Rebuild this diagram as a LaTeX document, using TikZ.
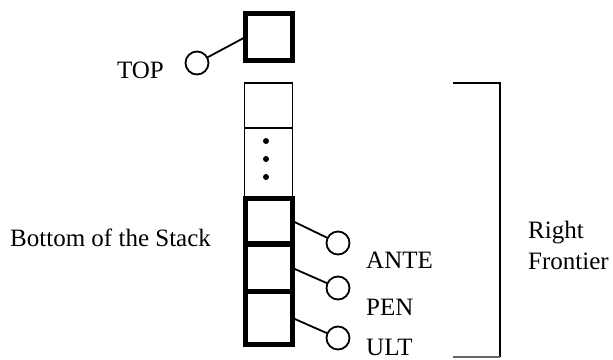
\documentclass[tikz,border=0pt]{standalone}
\usepackage{fontspec}
\setmainfont{Liberation Serif}
\begin{document}
\begin{tikzpicture}[x=1pt,y=-1pt,
  thickbox/.style={draw,line width=4.5pt,minimum width=47pt,inner sep=0pt,outer sep=0pt},
  thinbox/.style={draw,line width=1.8pt,minimum width=48pt,inner sep=0pt,outer sep=0pt},
  ptr/.style={draw,circle,line width=1.8pt,minimum size=23pt,inner sep=0pt,outer sep=0pt},
  conn/.style={line width=1.8pt},
  lbl/.style={font=\fontsize{25}{29}\selectfont,inner sep=0pt}]
\useasboundingbox (0,0) rectangle (613,359);
% top box
\node[thickbox,minimum width=47pt,minimum height=47pt] (topbox) at (269,37) {};
% thin boxes
\node[thinbox,minimum height=45pt] (s1) at (268.5,105.5) {};
\node[thinbox,minimum height=69pt] (s2) at (268.5,162.5) {};
\fill (266,141) circle (3);
\fill (266,159) circle (3);
\fill (266,177) circle (3);
% thick boxes
\node[thickbox,minimum width=47pt,minimum height=45pt] (b1) at (269,221) {};
\node[thickbox,minimum width=47pt,minimum height=47pt] (b2) at (269,268) {};
\node[thickbox,minimum width=47pt,minimum height=53pt] (b3) at (269,318) {};
% pointers
\node[ptr] (tc) at (197,63) {};
\node[ptr] (c1) at (338,243) {};
\node[ptr] (c2) at (338,288) {};
\node[ptr] (c3) at (338,338) {};
\draw[conn] (tc) -- (topbox.west);
\draw[conn] (b1.east) -- (c1);
\draw[conn] (b2.east) -- (c2);
\draw[conn] (b3.east) -- (c3);
% labels
\node[lbl,anchor=base east] (ltop) at (164,78) {TOP};
\node[lbl,anchor=base west] (lante) at (366,268) {ANTE};
\node[lbl,anchor=base west] (lpen) at (366,315) {PEN};
\node[lbl,anchor=base west] (lult) at (366,355) {ULT};
\node[lbl,anchor=base west] (lbot) at (10,246) {Bottom of the Stack};
\node[lbl,anchor=base west] (lright) at (528,238) {Right};
\node[lbl,anchor=base west] (lfront) at (528,269) {Frontier};
% bracket
\coordinate (br1) at (453,83);
\coordinate (br2) at (500,83);
\coordinate (br3) at (500,357);
\coordinate (br4) at (453,357);
\draw[line width=1.8pt] (br1) -- (br2) -- (br3);
\draw[line width=1.2pt,black!60] (br3) -- (br4);
\end{tikzpicture}
\end{document}
